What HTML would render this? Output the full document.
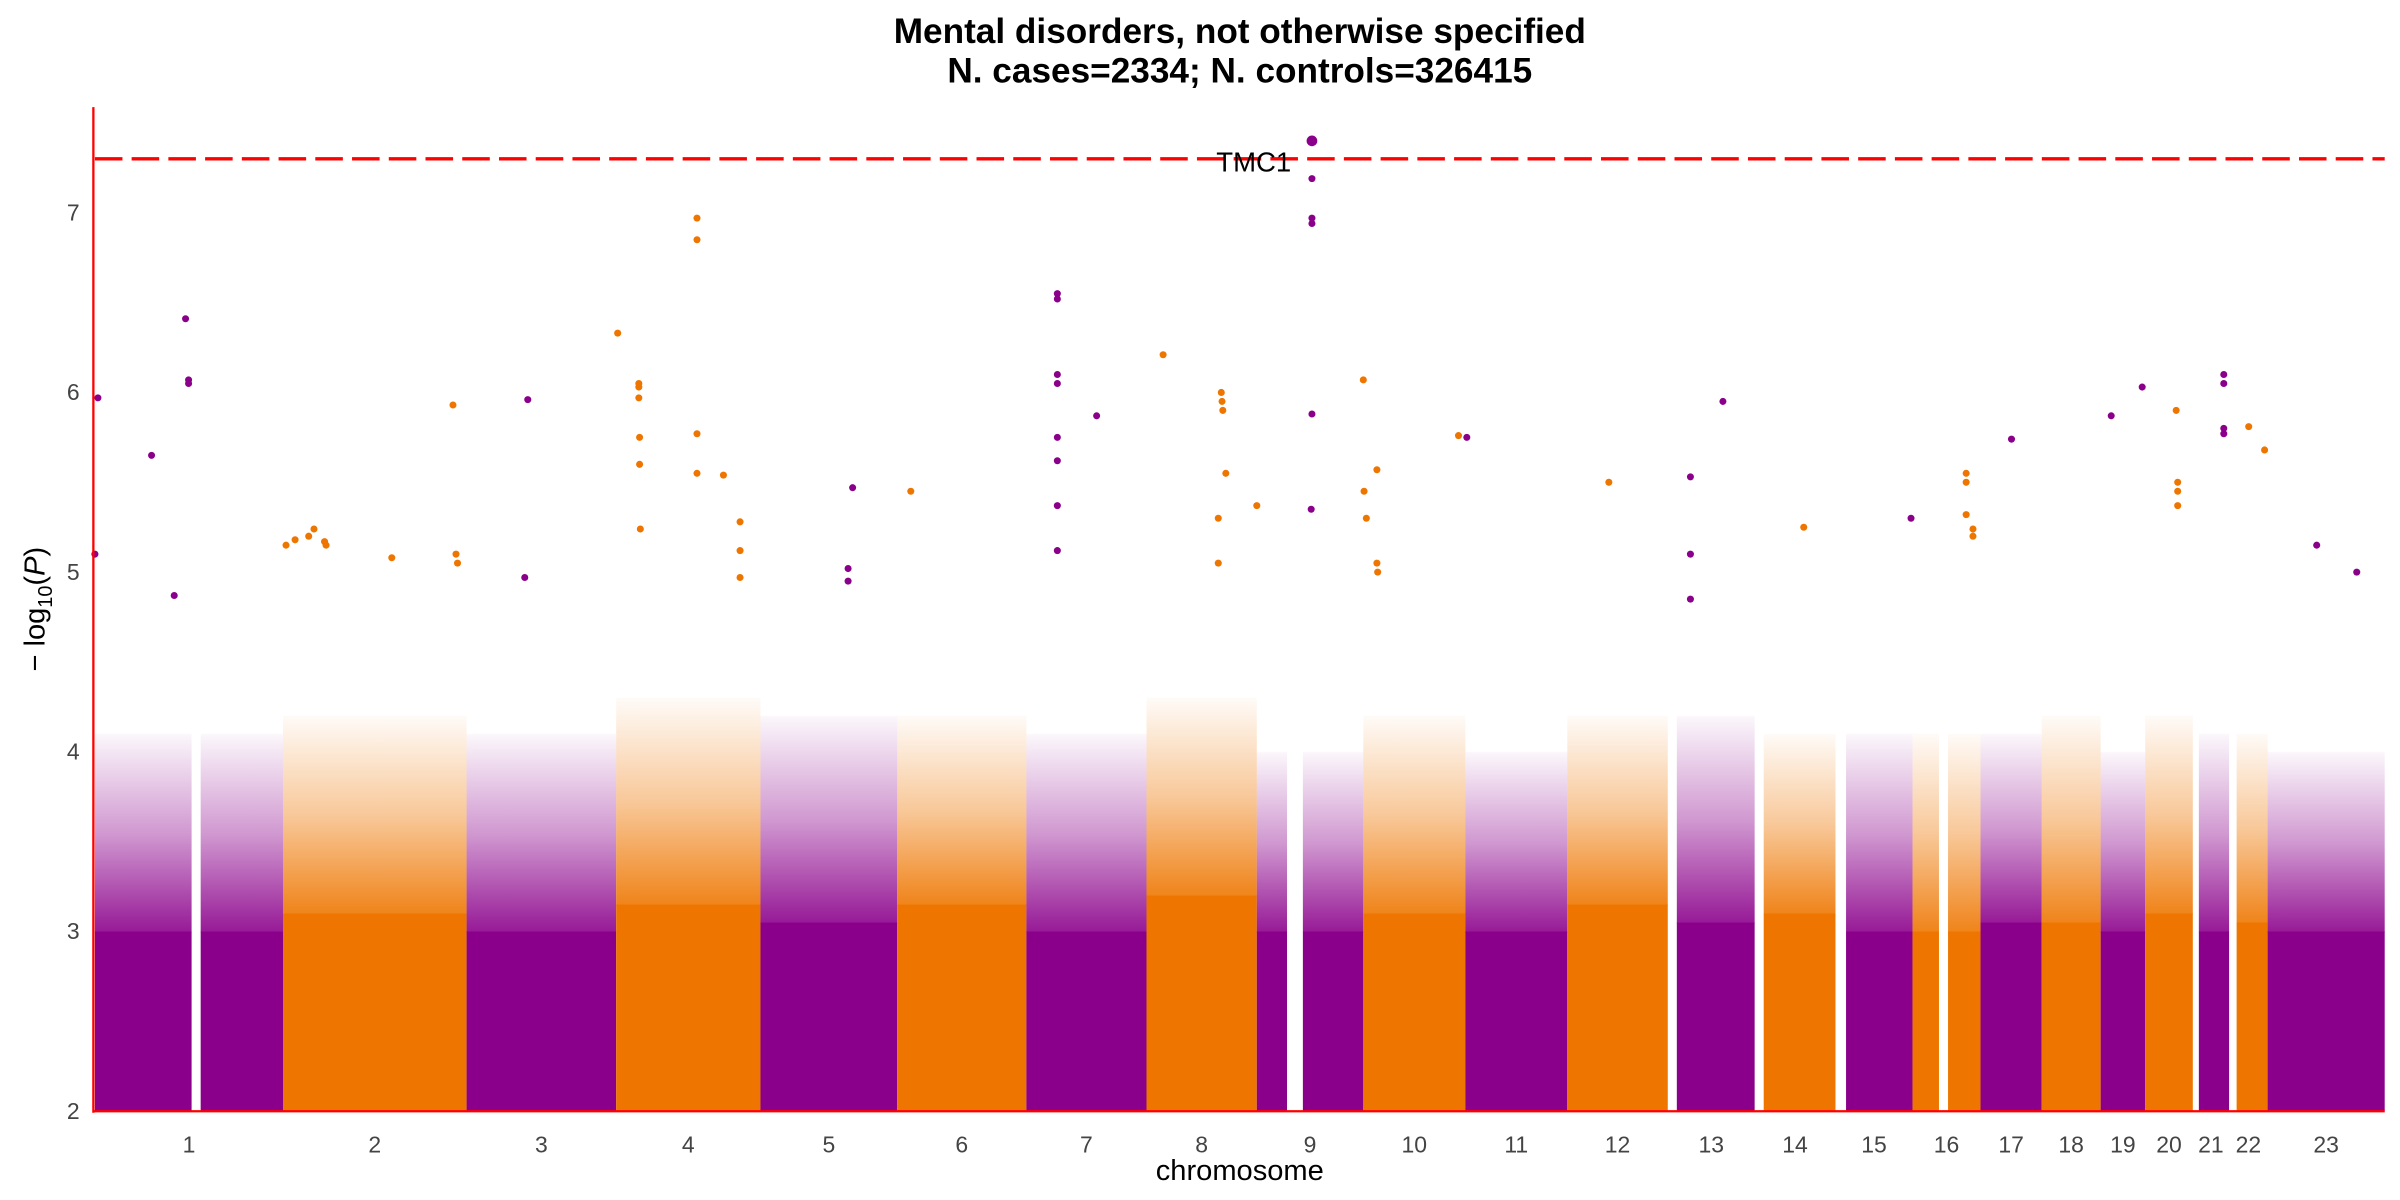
<!DOCTYPE html>
<html><head><meta charset="utf-8">
<style>
html,body{margin:0;padding:0;background:#fff;}
svg{display:block;font-family:"Liberation Sans",sans-serif;}
</style></head>
<body>
<svg id="chart" width="2400" height="1200" viewBox="0 0 1568 784" xmlns="http://www.w3.org/2000/svg">
<defs>
<linearGradient id="fadeP" x1="0" y1="1" x2="0" y2="0"><stop offset="0" stop-color="#8B008B" stop-opacity="0.9"/><stop offset="0.5" stop-color="#8B008B" stop-opacity="0.4"/><stop offset="1" stop-color="#8B008B" stop-opacity="0.03"/></linearGradient>
<linearGradient id="fadeO" x1="0" y1="1" x2="0" y2="0"><stop offset="0" stop-color="#EE7600" stop-opacity="0.9"/><stop offset="0.5" stop-color="#EE7600" stop-opacity="0.4"/><stop offset="1" stop-color="#EE7600" stop-opacity="0.03"/></linearGradient>
</defs>
<text x="810" y="28" text-anchor="middle" font-size="23" font-weight="bold">Mental disorders, not otherwise specified</text>
<text x="810" y="54" text-anchor="middle" font-size="23" font-weight="bold">N. cases=2334; N. controls=326415</text>
<g id="marks"></g>
<g id="axes"></g>
</svg>
<script>
const chromNames = ["1","2","3","4","5","6","7","8","9","10","11","12","13","14","15","16","17","18","19","20","21","22","23"];
const chromLengths = [249,243,198,191,181,171,159,146,141,135,135,133,115,107,102,90,81,78,59,63,48,51,155];
const chromStarts = [0,0,0,0,0,0,0,0,0,0,0,0,12,12,14,0,0,0,0,0,8,10,0];
const gapStart = [128,0,0,0,0,0,0,0,40,0,0,0,0,0,0,35,0,0,0,0,0,0,0];
const gapEnd = [140,0,0,0,0,0,0,0,61,0,0,0,0,0,0,47,0,0,0,0,0,0,0];
const denseTop = [3.0,3.1,3.0,3.15,3.05,3.15,3.0,3.2,3.0,3.1,3.0,3.15,3.05,3.1,3.0,3.0,3.05,3.05,3.0,3.1,3.0,3.05,3.0];
const sparseTop = [4.1,4.2,4.1,4.3,4.2,4.2,4.1,4.3,4.0,4.2,4.0,4.2,4.2,4.1,4.1,4.1,4.1,4.2,4.0,4.2,4.1,4.1,4.0];
const peakChrom = [1,1,1,1,1,1,1,2,2,2,2,2,2,2,2,2,2,3,3,4,4,4,4,4,4,4,4,4,4,4,4,4,4,4,5,5,5,6,7,7,7,7,7,7,7,7,7,8,8,8,8,8,8,8,8,9,9,9,9,9,9,10,10,10,10,10,10,10,11,12,13,13,13,13,14,15,16,16,16,16,16,17,19,19,20,20,20,20,21,21,21,21,22,22,23,23];
const peakPos = [4,0,75,120,124,124,105,34,41,55,57,4,16,229,231,225,144,81,77,2,30,30,30,31,31,32,107,107,107,107,142,164,164,164,122,116,116,18,41,41,41,41,41,41,41,41,93,22,99,100,101,105,95,95,146,73,73,73,73,73,72,0,18,1,4,18,19,126,2,55,73,30,30,30,65,100,71,71,71,80,80,41,14,55,41,43,43,43,41,41,41,41,26,47,65,118];
const peakVal = [5.97,5.1,5.65,6.41,6.07,6.05,4.87,5.2,5.24,5.17,5.15,5.15,5.18,5.1,5.05,5.93,5.08,5.96,4.97,6.33,6.05,6.03,5.97,5.75,5.6,5.24,6.97,6.85,5.77,5.55,5.54,5.28,5.12,4.97,5.47,5.02,4.95,5.45,6.55,6.52,6.1,6.05,5.75,5.62,5.37,5.12,5.87,6.21,6.0,5.95,5.9,5.55,5.3,5.05,5.37,7.4,7.19,6.97,6.94,5.88,5.35,6.07,5.57,5.45,5.3,5.05,5.0,5.76,5.75,5.5,5.95,5.53,5.1,4.85,5.25,5.3,5.55,5.5,5.32,5.24,5.2,5.74,5.87,6.03,5.9,5.5,5.45,5.37,6.1,6.05,5.8,5.77,5.81,5.68,5.15,5.0];
const yTicks = [2,3,4,5,6,7];
const threshold = 7.3;
const topLabel = "TMC1";

const NS="http://www.w3.org/2000/svg";
const X0=62, X1=1558, Y0=726, YPER=117.4;
const total = chromLengths.reduce((a,b)=>a+b,0);
const offsets=[]; {let c=0; for(const l of chromLengths){offsets.push(c); c+=l;}}
const xs = g => X0 + g/total*(X1-X0);
const ys = v => Y0 - (v-2)*YPER;
function mk(tag, attrs, parent){const e=document.createElementNS(NS,tag); for(const k in attrs) e.setAttribute(k,attrs[k]); parent.appendChild(e); return e;}
const marks=document.getElementById('marks'), axes=document.getElementById('axes');

chromNames.forEach((nm,i)=>{
  const col = i%2===0 ? "#8B008B" : "#EE7600";
  const grad = i%2===0 ? "url(#fadeP)" : "url(#fadeO)";
  const segs = [];
  if(gapEnd[i]>gapStart[i]){ segs.push([chromStarts[i],gapStart[i]]); segs.push([gapEnd[i],chromLengths[i]]); }
  else segs.push([chromStarts[i],chromLengths[i]]);
  const g = mk('g',{},marks);
  
  
  segs.forEach(([a,b])=>{
    const xa=xs(offsets[i]+a), xb=xs(offsets[i]+b);
    const r1 = mk('rect',{x:xa,y:ys(sparseTop[i]),width:Math.max(0,xb-xa),height:ys(denseTop[i])-ys(sparseTop[i])+0.5,fill:grad},g);
    
    
    const r2 = mk('rect',{x:xa,y:ys(denseTop[i]),width:Math.max(0,xb-xa),height:Y0-ys(denseTop[i]),fill:col},g);
    
    
  });
  const t = mk('text',{x:xs(offsets[i]+chromLengths[i]/2),y:753,'text-anchor':'middle','font-size':15,fill:'#444'},axes);
  t.textContent=nm;
  
  
});

peakChrom.forEach((c,k)=>{
  const i=c-1;
  const col = i%2===0 ? "#8B008B" : "#EE7600";
  const p = mk('circle',{cx:xs(offsets[i]+peakPos[k]),cy:ys(peakVal[k]),r:peakVal[k]>=threshold?3.5:2.3,fill:col},marks);
  
  
});

const th = mk('line',{x1:X0,x2:X1,y1:ys(threshold),y2:ys(threshold),stroke:'#FF0000','stroke-width':2.2,'stroke-dasharray':'18 6'},axes);


let ti=0; peakVal.forEach((v,k)=>{ if(v>peakVal[ti]) ti=k; });
const lab = mk('text',{x:xs(offsets[peakChrom[ti]-1]+peakPos[ti])-38,y:ys(peakVal[ti])+20,'text-anchor':'middle','font-size':18,fill:'#000'},axes);
lab.textContent=topLabel;



const ya = mk('line',{x1:61,x2:61,y1:70,y2:Y0+1,stroke:'#FF0000','stroke-width':1.5},axes);


const xa = mk('line',{x1:61,x2:X1,y1:Y0,y2:Y0,stroke:'#FF0000','stroke-width':1.5},axes);


yTicks.forEach(v=>{
  const t = mk('text',{x:52,y:ys(v)+5,'text-anchor':'end','font-size':15,fill:'#444'},axes);
  t.textContent=String(v);
  
  
});
const xt = mk('text',{x:810,y:771,'text-anchor':'middle','font-size':19,fill:'#000'},axes);
xt.textContent='chromosome';


const ytg = mk('text',{transform:'translate(29,398) rotate(-90)','text-anchor':'middle','font-size':19,fill:'#000'},axes);


ytg.innerHTML='<tspan>− log</tspan><tspan font-size="13" dy="5">10</tspan><tspan dy="-5">(</tspan><tspan font-style="italic">P</tspan><tspan>)</tspan>';
</script>
</body></html>
